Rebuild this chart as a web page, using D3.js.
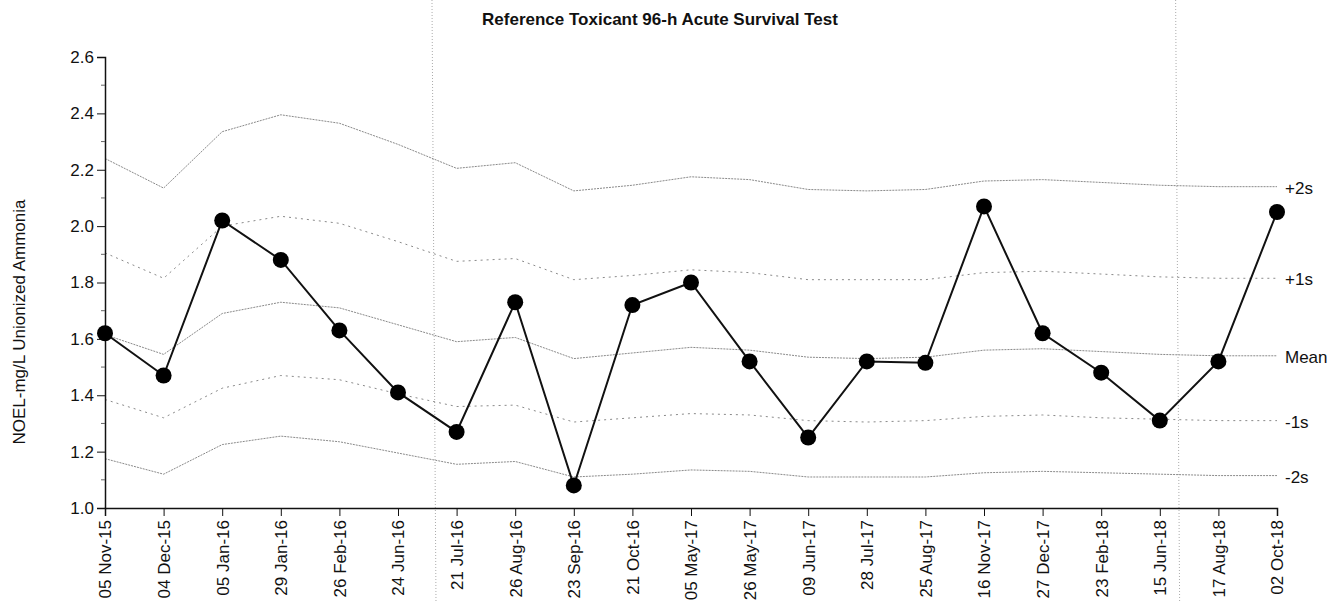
<!DOCTYPE html>
<html>
<head>
<meta charset="utf-8">
<script src="https://cdn.jsdelivr.net/npm/d3@7"></script>
<style>
  body { margin: 0; background: #fff; }
  text { font-family: Arial, "Liberation Sans", sans-serif; }
</style>
</head>
<body>
<div id="chart"></div>
<script>
const dates = ['05 Nov-15', '04 Dec-15', '05 Jan-16', '29 Jan-16', '26 Feb-16', '24 Jun-16',
  '21 Jul-16', '26 Aug-16', '23 Sep-16', '21 Oct-16', '05 May-17', '26 May-17', '09 Jun-17',
  '28 Jul-17', '25 Aug-17', '16 Nov-17', '27 Dec-17', '23 Feb-18', '15 Jun-18', '17 Aug-18', '02 Oct-18'];

const noel = [1.62, 1.47, 2.02, 1.88, 1.63, 1.41, 1.27, 1.73, 1.08, 1.72, 1.80,
  1.52, 1.25, 1.52, 1.515, 2.07, 1.62, 1.48, 1.31, 1.52, 2.05];

const plus2s = [2.24, 2.135, 2.335, 2.395, 2.365, 2.29, 2.205, 2.225, 2.125, 2.145, 2.175,
  2.165, 2.13, 2.125, 2.13, 2.16, 2.165, 2.155, 2.145, 2.14, 2.14];
const plus1s = [1.905, 1.815, 2.0, 2.035, 2.01, 1.945, 1.875, 1.885, 1.81, 1.825, 1.845,
  1.835, 1.81, 1.81, 1.81, 1.835, 1.84, 1.83, 1.82, 1.815, 1.815];
const meanLine = [1.615, 1.545, 1.69, 1.73, 1.71, 1.65, 1.59, 1.605, 1.53, 1.55, 1.57,
  1.56, 1.535, 1.53, 1.535, 1.56, 1.565, 1.555, 1.545, 1.54, 1.54];
const minus1s = [1.385, 1.32, 1.425, 1.47, 1.455, 1.405, 1.36, 1.365, 1.305, 1.32, 1.335,
  1.33, 1.31, 1.305, 1.31, 1.325, 1.33, 1.32, 1.315, 1.31, 1.31];
const minus2s = [1.175, 1.12, 1.225, 1.255, 1.235, 1.195, 1.155, 1.165, 1.11, 1.12, 1.135,
  1.13, 1.11, 1.11, 1.11, 1.125, 1.13, 1.125, 1.12, 1.115, 1.115];

const limitLabels = ['+2s', '+1s', 'Mean', '-1s', '-2s'];
const yTicks = [1.0, 1.2, 1.4, 1.6, 1.8, 2.0, 2.2, 2.4, 2.6];
const yMinorTicks = [1.1, 1.3, 1.5, 1.7, 1.9, 2.1, 2.3, 2.5];
// faint page-fold lines in the scan, as positions along the date index
const foldLines = [5.58, 18.27];

const width = 1328;
const height = 603;
const margin = { left: 105, right: 51, top: 57, bottom: 95 };

const svg = d3.select('#chart')
  .append('svg')
  .attr('width', width)
  .attr('height', height);

const x = d3.scalePoint()
  .domain(dates)
  .range([margin.left, width - margin.right])
  .padding(0);

const xIndex = d3.scaleLinear()
  .domain([0, dates.length - 1])
  .range([margin.left, width - margin.right]);

const y = d3.scaleLinear()
  .domain([1.0, 2.6])
  .range([height - margin.bottom, margin.top]);

svg.append('text')
  .attr('x', 660)
  .attr('y', 25)
  .attr('text-anchor', 'middle')
  .attr('font-size', '17px')
  .attr('font-weight', 'bold')
  .attr('fill', '#111')
  .text('Reference Toxicant 96-h Acute Survival Test');

// fold lines
svg.selectAll('.fold')
  .data(foldLines)
  .enter()
  .append('line')
  .attr('x1', d => xIndex(d))
  .attr('x2', d => xIndex(d) + 4)
  .attr('y1', 0)
  .attr('y2', height)
  .attr('stroke', '#aaa')
  .attr('stroke-width', 1)
  .attr('stroke-dasharray', '1,2');

// control limit lines
const limits = [
  { name: limitLabels[0], values: plus2s, dash: '2,1' },
  { name: limitLabels[1], values: plus1s, dash: '2,4' },
  { name: limitLabels[2], values: meanLine, dash: '2,1' },
  { name: limitLabels[3], values: minus1s, dash: '2,4' },
  { name: limitLabels[4], values: minus2s, dash: '2,1' }
];

const line = d3.line()
  .x((d, i) => x(dates[i]))
  .y(d => y(d));

svg.selectAll('.limit')
  .data(limits)
  .enter()
  .append('path')
  .attr('class', 'limit')
  .attr('d', d => line(d.values))
  .attr('fill', 'none')
  .attr('stroke', '#8a8a8a')
  .attr('stroke-width', 1)
  .attr('stroke-dasharray', d => d.dash);

svg.selectAll('.limit-label')
  .data(limits)
  .enter()
  .append('text')
  .attr('x', x(dates[dates.length - 1]) + 8)
  .attr('y', d => y(d.values[d.values.length - 1]) + 1)
  .attr('dy', '0.35em')
  .attr('font-size', '17px')
  .attr('fill', '#111')
  .text(d => d.name);

// axes
const yAxis = d3.axisLeft(y)
  .tickValues(yTicks)
  .tickFormat(d3.format('.1f'))
  .tickSize(8)
  .tickPadding(3);

const yg = svg.append('g')
  .attr('transform', `translate(${margin.left},0)`)
  .call(yAxis);
yg.select('.domain').attr('stroke', '#111').attr('stroke-width', 1.5);
yg.selectAll('.tick line').attr('stroke', '#111');
yg.selectAll('.tick text')
  .attr('font-size', '17px')
  .attr('fill', '#111');

svg.append('g')
  .selectAll('line')
  .data(yMinorTicks)
  .enter()
  .append('line')
  .attr('x1', margin.left - 4)
  .attr('x2', margin.left)
  .attr('y1', d => y(d))
  .attr('y2', d => y(d))
  .attr('stroke', '#666');

const xAxis = d3.axisBottom(x)
  .tickSize(8)
  .tickPadding(4);

const xg = svg.append('g')
  .attr('transform', `translate(0,${height - margin.bottom})`)
  .call(xAxis);
xg.select('.domain').attr('stroke', '#111').attr('stroke-width', 1.5);
xg.selectAll('.tick line').attr('stroke', '#111');
xg.selectAll('.tick text')
  .attr('font-size', '17px')
  .attr('fill', '#111')
  .attr('text-anchor', 'end')
  .attr('transform', 'rotate(-90)')
  .attr('x', -12)
  .attr('y', 0)
  .attr('dy', '0.35em');

svg.append('text')
  .attr('transform', 'translate(25,322) rotate(-90)')
  .attr('text-anchor', 'middle')
  .attr('font-size', '17px')
  .attr('fill', '#111')
  .text('NOEL-mg/L Unionized Ammonia');

// data series
svg.append('path')
  .datum(noel)
  .attr('d', line)
  .attr('fill', 'none')
  .attr('stroke', '#111')
  .attr('stroke-width', 2);

svg.selectAll('.pt')
  .data(noel)
  .enter()
  .append('circle')
  .attr('class', 'pt')
  .attr('cx', (d, i) => x(dates[i]))
  .attr('cy', d => y(d))
  .attr('r', 8)
  .attr('fill', '#000');
</script>
</body>
</html>
